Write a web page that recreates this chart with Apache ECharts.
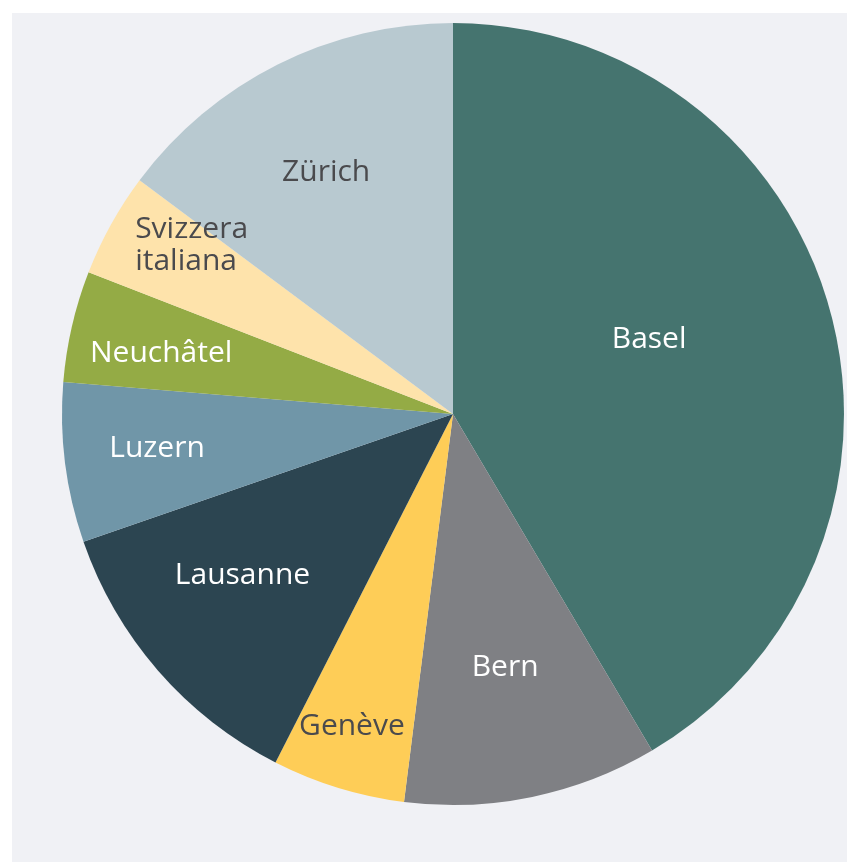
<!DOCTYPE html>
<html>
<head>
<meta charset="utf-8">
<style>
  html, body { margin: 0; padding: 0; background: #ffffff; }
  #chart { position: absolute; left: 12px; top: 13px; width: 835px; height: 849px; }
</style>
<script src="https://cdn.jsdelivr.net/npm/echarts@6/dist/echarts.min.js"></script>
</head>
<body>
<div id="chart"></div>
<script>
// Anteile pro Standort (in %)
var regions = ['Basel', 'Bern', 'Genève', 'Lausanne', 'Luzern', 'Neuchâtel', 'Svizzera\nitaliana', 'Zürich'];
var shares = [41.5, 10.5, 5.5, 12.2, 6.6, 4.6, 4.3, 14.8];

// Farben und Label-Stil
var colors = ['#45746f', '#7f8084', '#fecd57', '#2c4551', '#7096a8', '#94ab45', '#fee3ab', '#b8c9d0'];
var textColors = ['#ffffff', '#ffffff', '#4a4a4d', '#ffffff', '#ffffff', '#ffffff', '#4a4a4d', '#4a4a4d'];
var labelRadius = [0.537, 0.663, 0.841, 0.679, 0.762, 0.762, 0.796, 0.697];
var labelShift = [-5.6, 0.1, 0.8, 3.5, 0.6, -1.3, 3.9, -1.1];

var CX = 441, CY = 401, R = 391;

// mittlerer Winkel jedes Segments (von oben, im Uhrzeigersinn)
var total = shares.reduce(function (a, b) { return a + b; }, 0);
var midAngle = [];
var acc = 0;
for (var i = 0; i < shares.length; i++) {
  midAngle.push((acc + shares[i] / 2) / total * 360);
  acc += shares[i];
}

var chart = echarts.init(document.getElementById('chart'));

var pieData = [];
for (var j = 0; j < regions.length; j++) {
  pieData.push({
    name: regions[j],
    value: shares[j],
    itemStyle: { color: colors[j] },
    label: { color: textColors[j] }
  });
}

chart.setOption({
  backgroundColor: '#f0f1f5',
  animation: false,
  series: [{
    type: 'pie',
    center: [CX, CY],
    radius: [0, R],
    startAngle: 90,
    clockwise: true,
    avoidLabelOverlap: false,
    silent: true,
    itemStyle: { borderWidth: 0 },
    label: {
      show: true,
      position: 'inside',
      formatter: '{b}',
      fontFamily: 'Open Sans',
      fontSize: 30,
      lineHeight: 32
    },
    labelLine: { show: false },
    labelLayout: function (p) {
      var k = p.dataIndex;
      var a = (midAngle[k] + labelShift[k]) * Math.PI / 180;
      var d = labelRadius[k] * R;
      var x = CX + d * Math.sin(a);
      var y = CY - d * Math.cos(a);
      // mehrzeiliges Label linksbündig
      if (k === 6) {
        return { x: x - p.labelRect.width / 2, y: y, align: 'left' };
      }
      return { x: x, y: y };
    },
    data: pieData
  }]
});
</script>
</body>
</html>
